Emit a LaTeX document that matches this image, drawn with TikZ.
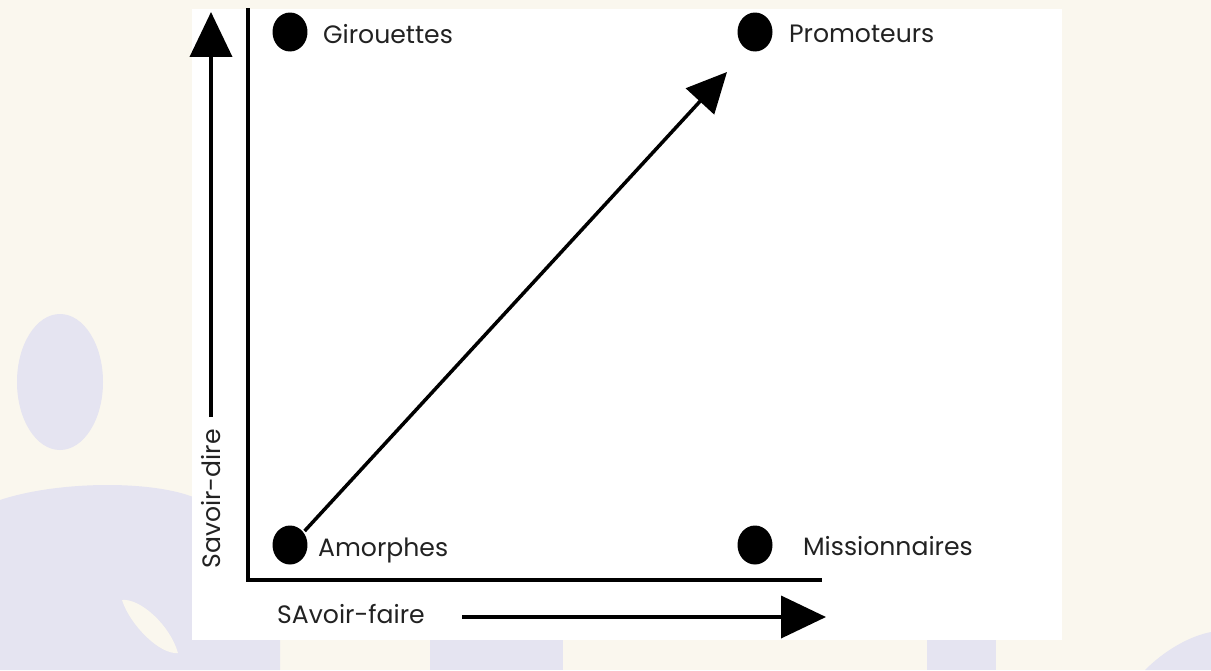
\documentclass[tikz,border=0pt]{standalone}
\usepackage{fontspec}
\setmainfont{Poppins}
\usetikzlibrary{arrows.meta}
\usetikzlibrary{shapes.geometric}
\usetikzlibrary{positioning}

\definecolor{creme}{HTML}{FAF7EE}
\definecolor{lavande}{HTML}{E5E4F1}
\definecolor{encre}{HTML}{222222}

\tikzset{
  point/.style={ellipse, fill=black, minimum width=0.7cm, minimum height=0.78cm, inner sep=0pt},
  etiquette/.style={anchor=west, text=encre, font=\fontsize{14.3}{15}\selectfont, inner sep=1pt},
  axe/.style={line width=2.4pt, line cap=butt},
  fleche/.style={line width=2.2pt, -{Triangle[length=0.9cm, width=0.84cm]}},
  diag/.style={line width=2pt, -{Triangle[length=0.8cm, width=0.76cm]}}
}

\begin{document}
\begin{tikzpicture}[x=0.02cm, y=-0.02cm]
  % fond
  \fill[creme] (0,0) rectangle (1211,670);
  \useasboundingbox (0,0) rectangle (1211,670);

  % taches du fond
  \fill[lavande] (60,382) ellipse[x radius=43, y radius=68];
  \fill[lavande] (0,500) .. controls (60,480) and (160,480) .. (200,500)
    -- (280,640) -- (280,670) -- (0,670) -- cycle;
  \fill[creme] (122,600) .. controls (140,598) and (170,625) .. (178,653)
    .. controls (160,655) and (130,625) .. (122,600);
  \fill[lavande] (430,640) rectangle (563,670);
  \fill[lavande] (927,640) rectangle (996,670);
  \fill[lavande] (1145,670) .. controls (1165,650) and (1190,636) .. (1211,632)
    -- (1211,670) -- cycle;

  % cadre blanc
  \fill[white] (192,9) rectangle (1062,640);

  % axes
  \coordinate (origine) at (248,580);
  \coordinate (haut) at (248,8);
  \coordinate (droite) at (822,580);
  \draw[axe] (haut) -- (origine) -- (droite);

  % quatre points
  \node[point] (gir) at (290,32) {};
  \node[point] (pro) at (755,32) {};
  \node[point] (amo) at (290,545) {};
  \node[point] (mis) at (755,545) {};

  \node[etiquette] (tgir) at (321,34) {Girouettes};
  \node[etiquette] (tpro) at (787,34) {Promoteurs};
  \node[etiquette] (tamo) at (316,550) {Amorphes};
  \node[etiquette] (tmis) at (801,546) {Missionnaires};

  % savoir-dire
  \node[etiquette, anchor=center, rotate=90] (dire) at (211,499) {Savoir-dire};
  \coordinate (diretip) at (211,12);
  \draw[fleche] (dire.east) ++(0,-10) -- (diretip);

  % savoir-faire
  \node[etiquette, anchor=center] (faire) at (351,614) {SAvoir-faire};
  \coordinate (fairetip) at (826,617);
  \draw[fleche] (462,617) -- (fairetip);

  % progression
  \coordinate (protip) at (727,72);
  \draw[diag] (amo.north east) ++(2,0) -- (protip);
\end{tikzpicture}
\end{document}
